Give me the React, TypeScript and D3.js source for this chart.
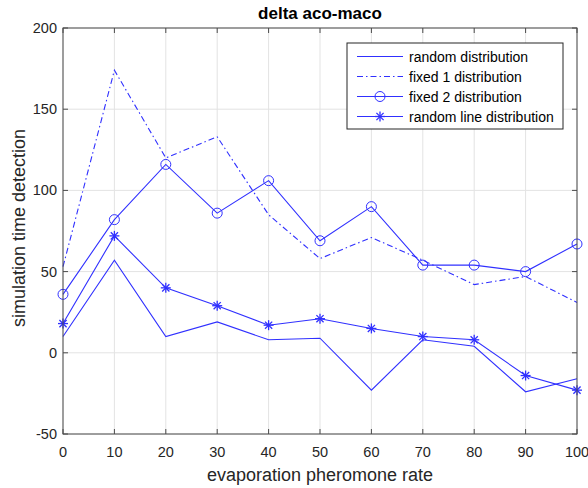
import React from 'react';
import * as d3 from 'd3';

// evaporation pheromone rate
const rates = [0, 10, 20, 30, 40, 50, 60, 70, 80, 90, 100];

const randomDist = [10, 57, 10, 19, 8, 9, -23, 8, 4, -24, -16];
const fixed1Dist = [53, 174, 120, 133, 85, 58, 71, 57, 42, 47, 31];
const fixed2Dist = [36, 82, 116, 86, 106, 69, 90, 54, 54, 50, 67];
const randomLineDist = [18, 72, 40, 29, 17, 21, 15, 10, 8, -14, -23];

const xTicks = [0, 10, 20, 30, 40, 50, 60, 70, 80, 90, 100];
const yTicks = [-50, 0, 50, 100, 150, 200];

const series = [
  { name: 'random distribution', values: randomDist, dash: null, marker: 'none' },
  { name: 'fixed 1 distribution', values: fixed1Dist, dash: '6,3,1.5,3', marker: 'none' },
  { name: 'fixed 2 distribution', values: fixed2Dist, dash: null, marker: 'circle' },
  { name: 'random line distribution', values: randomLineDist, dash: null, marker: 'star' },
];

const W = 588;
const H = 488;
const margin = { top: 28, right: 11, bottom: 54, left: 63 };
const BLUE = '#3030ff';
const AXIS = '#4a4a4a';
const TEXT = '#262626';
const FONT = 'Liberation Sans, Arial, Helvetica, sans-serif';

const Marker = ({ type, x, y }: { type: string; x: number; y: number }) => {
  if (type === 'circle') {
    return <circle cx={x} cy={y} r={5} fill="none" stroke={BLUE} strokeWidth={1} />;
  }
  if (type === 'star') {
    const s = 5;
    const d = s * 0.72;
    return (
      <g stroke={BLUE} strokeWidth={1.3}>
        <line x1={x - s} y1={y} x2={x + s} y2={y} />
        <line x1={x} y1={y - s} x2={x} y2={y + s} />
        <line x1={x - d} y1={y - d} x2={x + d} y2={y + d} />
        <line x1={x - d} y1={y + d} x2={x + d} y2={y - d} />
      </g>
    );
  }
  return null;
};

export default function App() {
  const x = d3.scaleLinear().domain([0, 100]).range([margin.left, W - margin.right]);
  const y = d3.scaleLinear().domain([-50, 200]).range([H - margin.bottom, margin.top]);

  const line = d3
    .line<number>()
    .x((_, i) => x(rates[i]))
    .y((d) => y(d));

  const [x0, x1] = x.range();
  const [y0, y1] = y.range();

  // legend box
  const lg = { x: 347, y: 43, w: 216, h: 86, row: 20 };

  return (
    <div style={{ position: 'absolute', left: 0, top: 0 }}>
      <svg width={W} height={H} style={{ display: 'block', background: '#fff' }}>
        <rect x={0} y={0} width={W} height={H} fill="#fff" />
        {/* grid */}
        <g stroke="#e3e3e3" strokeWidth={1}>
          {xTicks.map((t) => (
            <line key={'gx' + t} x1={x(t)} x2={x(t)} y1={y1} y2={y0} />
          ))}
          {yTicks.map((t) => (
            <line key={'gy' + t} x1={x0} x2={x1} y1={y(t)} y2={y(t)} />
          ))}
        </g>

        {/* series */}
        {series.map((s) => (
          <g key={s.name}>
            <path
              d={line(s.values) || ''}
              fill="none"
              stroke={BLUE}
              strokeWidth={1.1}
              strokeDasharray={s.dash || undefined}
            />
            {s.values.map((v, i) => (
              <Marker key={i} type={s.marker} x={x(rates[i])} y={y(v)} />
            ))}
          </g>
        ))}

        {/* axes box and ticks */}
        <rect x={x0} y={y1} width={x1 - x0} height={y0 - y1} fill="none" stroke={AXIS} strokeWidth={1} />
        <g stroke={AXIS} strokeWidth={1}>
          {xTicks.map((t) => (
            <g key={'tx' + t}>
              <line x1={x(t)} x2={x(t)} y1={y0} y2={y0 - 5} />
              <line x1={x(t)} x2={x(t)} y1={y1} y2={y1 + 5} />
            </g>
          ))}
          {yTicks.map((t) => (
            <g key={'ty' + t}>
              <line x1={x0} x2={x0 + 5} y1={y(t)} y2={y(t)} />
              <line x1={x1} x2={x1 - 5} y1={y(t)} y2={y(t)} />
            </g>
          ))}
        </g>

        {/* tick labels */}
        <g fontFamily={FONT} fontSize={14.5} fill={TEXT}>
          {xTicks.map((t) => (
            <text key={'lx' + t} x={x(t)} y={y0 + 23} textAnchor="middle">
              {t}
            </text>
          ))}
          {yTicks.map((t) => (
            <text key={'ly' + t} x={x0 - 6} y={y(t) + 5} textAnchor="end">
              {t}
            </text>
          ))}
        </g>

        {/* labels */}
        <text x={(x0 + x1) / 2} y={19} textAnchor="middle" fontFamily={FONT} fontSize={17} fontWeight="bold" fill="#000">
          delta aco-maco
        </text>
        <text x={(x0 + x1) / 2} y={481} textAnchor="middle" fontFamily={FONT} fontSize={18} fill={TEXT}>
          evaporation pheromone rate
        </text>
        <text
          transform={`translate(25,${(y0 + y1) / 2 - 3}) rotate(-90)`}
          textAnchor="middle"
          fontFamily={FONT}
          fontSize={18}
          fill={TEXT}
        >
          simulation time detection
        </text>

        {/* legend */}
        <g>
          <rect x={lg.x} y={lg.y} width={lg.w} height={lg.h} fill="#fff" stroke={TEXT} strokeWidth={1} />
          {series.map((s, i) => {
            const cy = lg.y + 13.5 + i * lg.row;
            return (
              <g key={'lg' + s.name}>
                <line
                  x1={lg.x + 10}
                  x2={lg.x + 56}
                  y1={cy}
                  y2={cy}
                  stroke={BLUE}
                  strokeWidth={1.1}
                  strokeDasharray={s.dash || undefined}
                />
                <Marker type={s.marker} x={lg.x + 33} y={cy} />
                <text x={lg.x + 62} y={cy + 5} fontFamily={FONT} fontSize={14} fill="#000">
                  {s.name}
                </text>
              </g>
            );
          })}
        </g>
      </svg>
    </div>
  );
}
